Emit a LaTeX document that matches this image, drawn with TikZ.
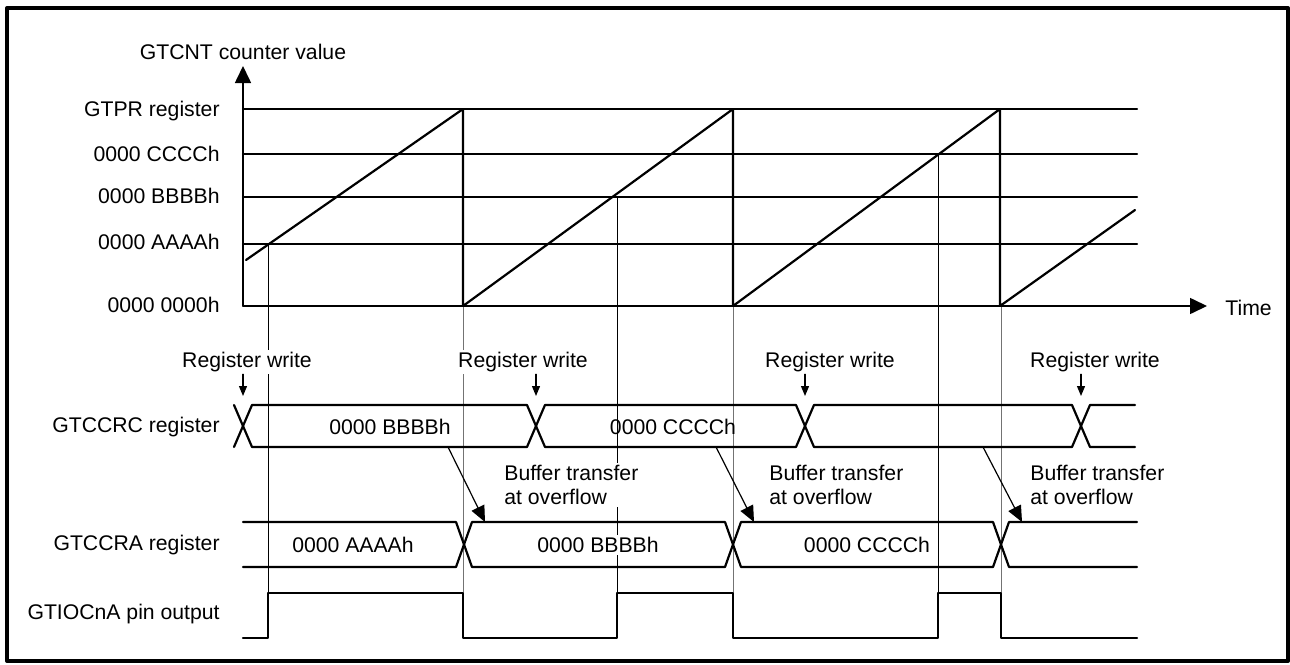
\documentclass[tikz,border=0pt]{standalone}
\usepackage{fontspec}
\setmainfont{Liberation Sans}
\usepackage{tikz}
\usetikzlibrary{arrows.meta,positioning}
\tikzstyle{wave}=[line width=1.1pt]
\tikzstyle{guide}=[line width=0.5pt,black!55]
\tikzstyle{cmpguide}=[line width=0.5pt,black]
\tikzstyle{lbl}=[inner sep=1pt,font=\fontsize{10.6}{12}\selectfont]
\tikzstyle{rowlbl}=[lbl,anchor=east]
\tikzstyle{boxlbl}=[lbl,fill=white]
\tikzstyle{wrarrow}=[line width=0.6pt,-{Triangle[length=5pt,width=4pt]}]
\tikzstyle{xfer}=[line width=0.6pt,-{Triangle[length=8pt,width=7pt]}]
\tikzstyle{axisline}=[line width=0.8pt,-{Triangle[length=8.5pt,width=8pt]}]

\begin{document}
\begin{tikzpicture}[line cap=round,line join=round,x=0.5pt,y=-0.5pt]
\useasboundingbox (0,0) rectangle (1290,664);
\draw [line width=2pt] (7,8) rectangle (1288,661);
\draw [cmpguide] (268,244) -- (268,593);
\draw [cmpguide] (617,197) -- (617,593);
\draw [cmpguide] (938,154) -- (938,593);
\foreach \t in {463,733,1001}
  \draw [guide] (\t,306) -- (\t,593);
\foreach \lv in {109,154,197,244}
  \draw [wave] (243,\lv) -- (1137,\lv);
\coordinate (org) at (243,306);
\coordinate (ytop) at (243,66);
\coordinate (xend) at (1207,306);
\draw [axisline] (org) -- (ytop);
\draw [axisline] (org) -- (xend);
\draw [wave] (246,260) -- (463,109) -- (463,306) -- (733,109) -- (733,306) -- (1000,109) -- (1000,306) -- (1135,210);
\draw [wave] (234,405) -- (252,447) -- (527,447) -- (545,405) -- (796,405) -- (814,447) -- (1072,447) -- (1090,405) -- (1135,405);
\draw [wave] (234,447) -- (252,405) -- (527,405) -- (545,447) -- (796,447) -- (814,405) -- (1072,405) -- (1090,447) -- (1135,447);
\draw [wave] (243,522) -- (456,522) -- (472,567) -- (725,567) -- (741,522) -- (993,522) -- (1009,567) -- (1137,567);
\draw [wave] (243,567) -- (456,567) -- (472,522) -- (725,522) -- (741,567) -- (993,567) -- (1009,522) -- (1137,522);
\draw [wave] (243,638) -- (268,638) -- (268,593) -- (463,593) -- (463,638) -- (617,638) -- (617,593) -- (733,593) -- (733,638) -- (938,638) -- (938,593) -- (1001,593) -- (1001,638) -- (1137,638);
\node [lbl] (title) at (243,52) {GTCNT counter value};
\node [lbl,anchor=west] (time) at (1223,308) {Time};
\node [rowlbl] (gtpr) at (222,111) {GTPR register};
\node [rowlbl] (lvc) at (222,154) {0000 CCCCh};
\node [rowlbl] (lvb) at (222,196) {0000 BBBBh};
\node [rowlbl] (lva) at (222,242) {0000 AAAAh};
\node [rowlbl] (lvz) at (222,305) {0000 0000h};
\node [rowlbl] (gtccrc) at (222,427) {GTCCRC register};
\node [rowlbl] (gtccra) at (222,545) {GTCCRA register};
\node [rowlbl] (gtiocna) at (222,614) {GTIOCnA pin output};
\node [boxlbl] (rw1) at (247,362) {Register write};
\node [boxlbl] (rw2) at (523,362) {Register write};
\node [boxlbl] (rw3) at (830,362) {Register write};
\node [boxlbl] (rw4) at (1095,362) {Register write};
\coordinate (wr1) at (243,396);
\coordinate (wr2) at (536,396);
\coordinate (wr3) at (805,396);
\coordinate (wr4) at (1081,396);
\draw [wrarrow] (rw1.south -| wr1) -- (wr1);
\draw [wrarrow] (rw2.south -| wr2) -- (wr2);
\draw [wrarrow] (rw3.south -| wr3) -- (wr3);
\draw [wrarrow] (rw4.south -| wr4) -- (wr4);
\node [lbl] (rcb) at (390,427) {0000 BBBBh};
\node [lbl] (rcc) at (673,427) {0000 CCCCh};
\node [boxlbl] (rab) at (598,545) {0000 BBBBh};
\node [boxlbl] (raa) at (353,545) {0000 AAAAh};
\node [boxlbl] (rac) at (867,545) {0000 CCCCh};
\node [boxlbl,anchor=west,align=left] (bt1) at (502,485) {Buffer transfer\\at overflow};
\node [boxlbl,anchor=west,align=left] (bt2) at (767,485) {Buffer transfer\\at overflow};
\node [boxlbl,anchor=west,align=left] (bt3) at (1028,485) {Buffer transfer\\at overflow};
\coordinate (src1) at (448,447);
\coordinate (dst1) at (485,522);
\coordinate (src2) at (716,447);
\coordinate (dst2) at (754,522);
\coordinate (src3) at (983,447);
\coordinate (dst3) at (1022,522);
\draw [xfer] (src1) -- (dst1);
\draw [xfer] (src2) -- (dst2);
\draw [xfer] (src3) -- (dst3);
\end{tikzpicture}
\end{document}
